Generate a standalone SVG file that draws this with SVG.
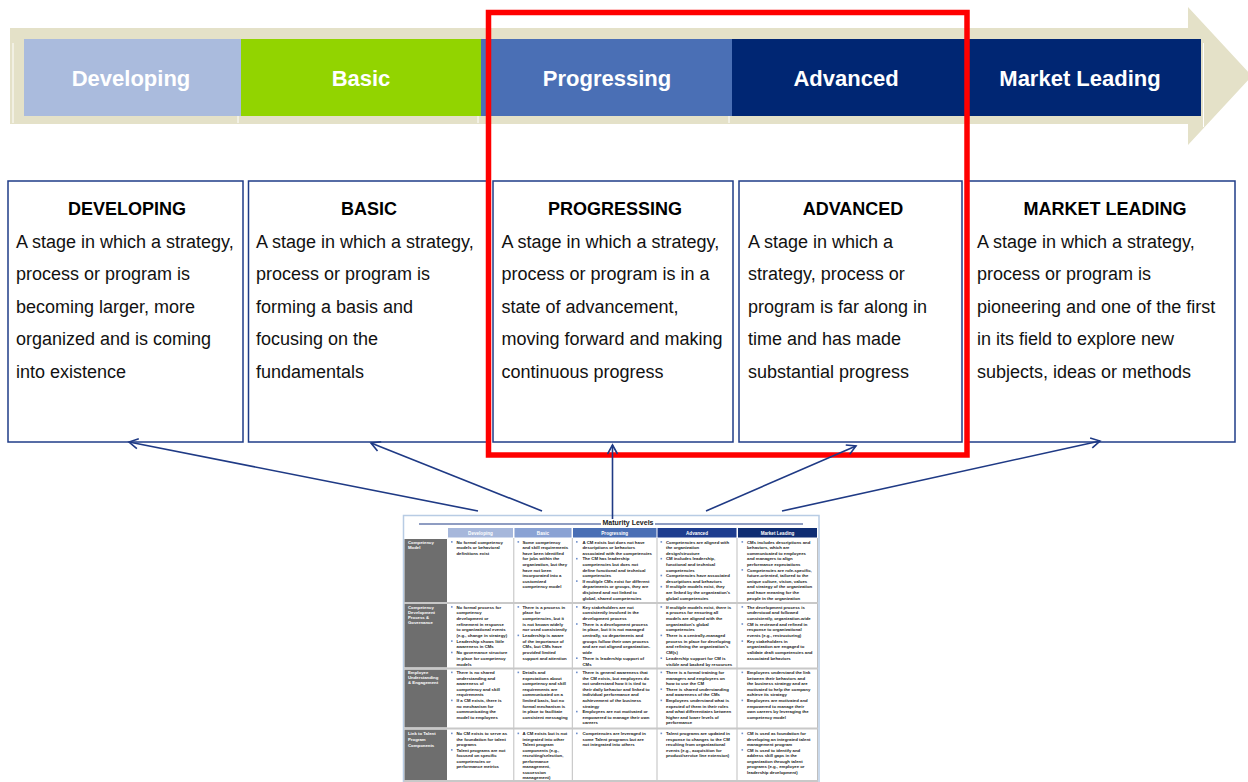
<svg xmlns="http://www.w3.org/2000/svg" xmlns:xlink="http://www.w3.org/1999/xlink" width="1248" height="782" viewBox="0 0 1248 782">
<style>
.bn{font-family:"Liberation Sans",Arial,sans-serif;font-weight:bold;font-size:22px;fill:#fff;text-anchor:middle}
.box{fill:#fff;stroke:#1F3C88;stroke-width:1.5}
.tt{font-family:"Liberation Sans",Arial,sans-serif;font-weight:bold;font-size:18px;fill:#000;text-anchor:middle}
.bd{font-family:"Liberation Sans",Arial,sans-serif;font-size:18px;fill:#111}
.con{fill:none;stroke:#1F3A85;stroke-width:1.6;marker-end:url(#ah)}
.hd{font-family:"Liberation Sans",Arial,sans-serif;font-weight:bold;font-size:4.6px;fill:#fff;text-anchor:middle}
.rl{font-family:"Liberation Sans",Arial,sans-serif;font-weight:bold;font-size:4.3px;fill:#fff}
.c{font-family:"Liberation Sans",Arial,sans-serif;font-weight:bold;font-size:4.3px;fill:#1a1a1a}
.mt{font-family:"Liberation Sans",Arial,sans-serif;font-weight:bold;font-size:7px;fill:#1a1a1a;text-anchor:middle}
.wl{stroke:#fff;stroke-width:1}
.gl{stroke:#BFBFBF;stroke-width:1}
.rs{stroke:#C8C8C8;stroke-width:2}
.lab{fill:#6E6E6E}
</style>
<defs>
<marker id="ah" markerWidth="12" markerHeight="12" refX="10" refY="6" orient="auto" markerUnits="userSpaceOnUse">
<path d="M1,1 L10,6 L1,11" fill="none" stroke="#1F3A85" stroke-width="1.6"/>
</marker>
<rect id="bl" width="1.6" height="1.6" fill="#6F8FCB"/>
</defs>
<rect width="1248" height="782" fill="#fff"/>

<g id="banner">
<polygon points="10,28 1188,28 1188,7 1252,76 1188,145 1188,124 10,124" fill="#E4E1C8"/>
<line class="wl" x1="13" y1="43" x2="13" y2="123"/>
<line class="wl" x1="1203.5" y1="43" x2="1203.5" y2="127"/>
<line class="wl" x1="238" y1="116" x2="238" y2="123"/>
<line class="wl" x1="478" y1="116" x2="478" y2="123"/>
<line class="wl" x1="729" y1="116" x2="729" y2="123"/>
</g>
<g id="stage-developing"><rect x="24" y="39" width="217" height="77" fill="#AABBDD"/><text class="bn" x="131" y="86">Developing</text></g>
<g id="stage-basic"><rect x="241" y="39" width="240" height="77" fill="#92D400"/><text class="bn" x="361" y="86">Basic</text></g>
<g id="stage-progressing"><rect x="481" y="39" width="251" height="77" fill="#4A6FB5"/><text class="bn" x="607" y="86">Progressing</text></g>
<g id="stage-advanced"><rect x="732" y="39" width="230" height="77" fill="#002673"/><text class="bn" x="846" y="86">Advanced</text></g>
<g id="stage-market-leading"><rect x="961" y="39" width="240" height="77" fill="#002673"/><text class="bn" x="1080" y="86">Market Leading</text></g>

<g id="box-developing">
<rect class="box" x="8" y="181" width="235" height="261"/>
<text class="tt" x="127" y="215">DEVELOPING</text>
<text class="bd" y="247.5"><tspan x="16">A stage in which a strategy,</tspan><tspan x="16" dy="32.5">process or program is</tspan><tspan x="16" dy="32.5">becoming larger, more</tspan><tspan x="16" dy="32.5">organized and is coming</tspan><tspan x="16" dy="32.5">into existence</tspan></text>
</g>
<g id="box-basic">
<rect class="box" x="248.5" y="181" width="238.5" height="261"/>
<text class="tt" x="369" y="215">BASIC</text>
<text class="bd" y="247.5"><tspan x="256">A stage in which a strategy,</tspan><tspan x="256" dy="32.5">process or program is</tspan><tspan x="256" dy="32.5">forming a basis and</tspan><tspan x="256" dy="32.5">focusing on the</tspan><tspan x="256" dy="32.5">fundamentals</tspan></text>
</g>
<g id="box-progressing">
<rect class="box" x="493" y="181" width="240" height="261"/>
<text class="tt" x="615" y="215">PROGRESSING</text>
<text class="bd" y="247.5"><tspan x="501.5">A stage in which a strategy,</tspan><tspan x="501.5" dy="32.5">process or program is in a</tspan><tspan x="501.5" dy="32.5">state of advancement,</tspan><tspan x="501.5" dy="32.5">moving forward and making</tspan><tspan x="501.5" dy="32.5">continuous progress</tspan></text>
</g>
<g id="box-advanced">
<rect class="box" x="739" y="181" width="223" height="261"/>
<text class="tt" x="853" y="215">ADVANCED</text>
<text class="bd" y="247.5"><tspan x="748">A stage in which a</tspan><tspan x="748" dy="32.5">strategy, process or</tspan><tspan x="748" dy="32.5">program is far along in</tspan><tspan x="748" dy="32.5">time and has made</tspan><tspan x="748" dy="32.5">substantial progress</tspan></text>
</g>
<g id="box-market-leading">
<rect class="box" x="967" y="181" width="268" height="261"/>
<text class="tt" x="1105" y="215">MARKET LEADING</text>
<text class="bd" y="247.5"><tspan x="977">A stage in which a strategy,</tspan><tspan x="977" dy="32.5">process or program is</tspan><tspan x="977" dy="32.5">pioneering and one of the first</tspan><tspan x="977" dy="32.5">in its field to explore new</tspan><tspan x="977" dy="32.5">subjects, ideas or methods</tspan></text>
</g>

<g id="highlight">
<rect x="488.5" y="12.5" width="478.5" height="442.5" fill="none" stroke="#FF0000" stroke-width="5.5"/>
</g>

<g id="table">
<rect x="403.5" y="515.5" width="415.5" height="270" fill="#fff" stroke="#B8CCE4" stroke-width="1.5"/>
<line x1="419" y1="524" x2="601" y2="524" stroke="#1F3A85" stroke-width="1"/>
<line x1="655" y1="524" x2="803" y2="524" stroke="#1F3A85" stroke-width="1"/>
<text class="mt" x="628" y="525">Maturity Levels</text>
<rect x="448" y="528" width="65" height="9.5" fill="#A6B7DB"/>
<rect x="514.5" y="528" width="57" height="9.5" fill="#8AA2D4"/>
<rect x="573" y="528" width="83.5" height="9.5" fill="#4A6FB5"/>
<rect x="657.5" y="528" width="79" height="9.5" fill="#1E3D8F"/>
<rect x="738" y="528" width="79" height="9.5" fill="#0F2D73"/>
<text class="hd" x="480.5" y="534.5">Developing</text>
<text class="hd" x="543" y="534.5">Basic</text>
<text class="hd" x="614.7" y="534.5">Progressing</text>
<text class="hd" x="697" y="534.5">Advanced</text>
<text class="hd" x="777.5" y="534.5">Market Leading</text>
<rect class="lab" x="404.5" y="539" width="42.5" height="63"/>
<rect class="lab" x="404.5" y="604" width="42.5" height="63.5"/>
<rect class="lab" x="404.5" y="669.5" width="42.5" height="58"/>
<rect class="lab" x="404.5" y="729.5" width="42.5" height="52"/>
<line class="gl" x1="513.8" y1="538" x2="513.8" y2="782"/>
<line class="gl" x1="572.3" y1="538" x2="572.3" y2="782"/>
<line class="gl" x1="657" y1="538" x2="657" y2="782"/>
<line class="gl" x1="737" y1="538" x2="737" y2="782"/>
<line class="gl" x1="817.5" y1="538" x2="817.5" y2="782"/>
<line class="rs" x1="404" y1="603" x2="818" y2="603"/>
<line class="rs" x1="404" y1="668.5" x2="818" y2="668.5"/>
<line class="rs" x1="404" y1="728.5" x2="818" y2="728.5"/>
<line class="rs" x1="404" y1="781" x2="818" y2="781"/>

<text class="rl" y="543.5"><tspan x="408">Competency</tspan><tspan x="408" dy="5">Model</tspan></text>
<text class="rl" y="608.5"><tspan x="408">Competency</tspan><tspan x="408" dy="5">Development</tspan><tspan x="408" dy="5">Process &amp;</tspan><tspan x="408" dy="5">Governance</tspan></text>
<text class="rl" y="674"><tspan x="408">Employee</tspan><tspan x="408" dy="5">Understanding</tspan><tspan x="408" dy="5">&amp; Engagement</tspan></text>
<text class="rl" y="735"><tspan x="408">Link to Talent</tspan><tspan x="408" dy="6">Program</tspan><tspan x="408" dy="6">Components</tspan></text>

<!-- Row 1 -->
<use xlink:href="#bl" x="451" y="541.1"/>
<text class="c" y="543.5"><tspan x="456.5">No formal competency</tspan><tspan x="456.5" dy="5.6">models or behavioral</tspan><tspan x="456.5" dy="5.6">definitions exist</tspan></text>
<use xlink:href="#bl" x="517.5" y="541.1"/>
<text class="c" y="543.5"><tspan x="522.5">Some competency</tspan><tspan x="522.5" dy="5.6">and skill requirements</tspan><tspan x="522.5" dy="5.6">have been identified</tspan><tspan x="522.5" dy="5.6">for jobs within the</tspan><tspan x="522.5" dy="5.6">organization, but they</tspan><tspan x="522.5" dy="5.6">have not been</tspan><tspan x="522.5" dy="5.6">incorporated into a</tspan><tspan x="522.5" dy="5.6">customized</tspan><tspan x="522.5" dy="5.6">competency model</tspan></text>
<use xlink:href="#bl" x="576" y="541.1"/><use xlink:href="#bl" x="576" y="557.9"/><use xlink:href="#bl" x="576" y="580.3"/>
<text class="c" y="543.5"><tspan x="582.5">A CM  exists but does not have</tspan><tspan x="582.5" dy="5.6">descriptions or behaviors</tspan><tspan x="582.5" dy="5.6">associated with the competencies</tspan><tspan x="582.5" dy="5.6">The CM has leadership</tspan><tspan x="582.5" dy="5.6">competencies but does not</tspan><tspan x="582.5" dy="5.6">define functional and technical</tspan><tspan x="582.5" dy="5.6">competencies</tspan><tspan x="582.5" dy="5.6">If multiple CMs exist for different</tspan><tspan x="582.5" dy="5.6">departments or groups, they are</tspan><tspan x="582.5" dy="5.6">disjoined and not linked to</tspan><tspan x="582.5" dy="5.6">global, shared competencies</tspan></text>
<use xlink:href="#bl" x="660.5" y="541.1"/><use xlink:href="#bl" x="660.5" y="557.9"/><use xlink:href="#bl" x="660.5" y="574.7"/><use xlink:href="#bl" x="660.5" y="585.9"/>
<text class="c" y="543.5"><tspan x="666">Competencies are aligned with</tspan><tspan x="666" dy="5.6">the organization</tspan><tspan x="666" dy="5.6">design/structure</tspan><tspan x="666" dy="5.6">CM includes leadership,</tspan><tspan x="666" dy="5.6">functional and technical</tspan><tspan x="666" dy="5.6">competencies</tspan><tspan x="666" dy="5.6">Competencies have associated</tspan><tspan x="666" dy="5.6">descriptions and behaviors</tspan><tspan x="666" dy="5.6">If multiple models exist, they</tspan><tspan x="666" dy="5.6">are linked by the organization's</tspan><tspan x="666" dy="5.6">global competencies</tspan></text>
<use xlink:href="#bl" x="741.5" y="541.1"/><use xlink:href="#bl" x="741.5" y="569.1"/>
<text class="c" y="543.5"><tspan x="747">CMs includes descriptions and</tspan><tspan x="747" dy="5.6">behaviors, which are</tspan><tspan x="747" dy="5.6">communicated to employees</tspan><tspan x="747" dy="5.6">and managers to align</tspan><tspan x="747" dy="5.6">performance expectations</tspan><tspan x="747" dy="5.6">Competencies are role-specific,</tspan><tspan x="747" dy="5.6">future-oriented, tailored to the</tspan><tspan x="747" dy="5.6">unique culture, vision,  values</tspan><tspan x="747" dy="5.6">and strategy of the organization</tspan><tspan x="747" dy="5.6">and have meaning for the</tspan><tspan x="747" dy="5.6">people in the organization</tspan></text>

<!-- Row 2 -->
<use xlink:href="#bl" x="451" y="606.1"/><use xlink:href="#bl" x="451" y="640.3"/><use xlink:href="#bl" x="451" y="651.7"/>
<text class="c" y="608.5"><tspan x="456.5">No formal process for</tspan><tspan x="456.5" dy="5.7">competency</tspan><tspan x="456.5" dy="5.7">development or</tspan><tspan x="456.5" dy="5.7">refinement in response</tspan><tspan x="456.5" dy="5.7">to organizational events</tspan><tspan x="456.5" dy="5.7">(e.g., change in strategy)</tspan><tspan x="456.5" dy="5.7">Leadership shows little</tspan><tspan x="456.5" dy="5.7">awareness in CMs</tspan><tspan x="456.5" dy="5.7">No governance structure</tspan><tspan x="456.5" dy="5.7">in place for competency</tspan><tspan x="456.5" dy="5.7">models</tspan></text>
<use xlink:href="#bl" x="517.5" y="606.1"/><use xlink:href="#bl" x="517.5" y="634.6"/>
<text class="c" y="608.5"><tspan x="522.5">There is a process in</tspan><tspan x="522.5" dy="5.7">place for</tspan><tspan x="522.5" dy="5.7">competencies, but it</tspan><tspan x="522.5" dy="5.7">is not known widely</tspan><tspan x="522.5" dy="5.7">nor used consistently</tspan><tspan x="522.5" dy="5.7">Leadership is aware</tspan><tspan x="522.5" dy="5.7">of the importance of</tspan><tspan x="522.5" dy="5.7">CMs, but CMs have</tspan><tspan x="522.5" dy="5.7">provided limited</tspan><tspan x="522.5" dy="5.7">support and attention</tspan></text>
<use xlink:href="#bl" x="576" y="606.1"/><use xlink:href="#bl" x="576" y="623.2"/><use xlink:href="#bl" x="576" y="657.4"/>
<text class="c" y="608.5"><tspan x="582.5">Key stakeholders are not</tspan><tspan x="582.5" dy="5.7">consistently involved in the</tspan><tspan x="582.5" dy="5.7">development process</tspan><tspan x="582.5" dy="5.7">There is a development process</tspan><tspan x="582.5" dy="5.7">in place, but it is not managed</tspan><tspan x="582.5" dy="5.7">centrally, so departments and</tspan><tspan x="582.5" dy="5.7">groups follow their own process</tspan><tspan x="582.5" dy="5.7">and are not aligned organization-</tspan><tspan x="582.5" dy="5.7">wide</tspan><tspan x="582.5" dy="5.7">There is leadership support of</tspan><tspan x="582.5" dy="5.7">CMs</tspan></text>
<use xlink:href="#bl" x="660.5" y="606.1"/><use xlink:href="#bl" x="660.5" y="634.6"/><use xlink:href="#bl" x="660.5" y="657.4"/>
<text class="c" y="608.5"><tspan x="666">If multiple models exist, there is</tspan><tspan x="666" dy="5.7">a process for ensuring all</tspan><tspan x="666" dy="5.7">models are aligned with the</tspan><tspan x="666" dy="5.7">organization's global</tspan><tspan x="666" dy="5.7">competencies</tspan><tspan x="666" dy="5.7">There is a centrally-managed</tspan><tspan x="666" dy="5.7">process in place for developing</tspan><tspan x="666" dy="5.7">and refining the organization's</tspan><tspan x="666" dy="5.7">CM(s)</tspan><tspan x="666" dy="5.7">Leadership support for CM is</tspan><tspan x="666" dy="5.7">visible and backed by resources</tspan></text>
<use xlink:href="#bl" x="741.5" y="606.1"/><use xlink:href="#bl" x="741.5" y="623.2"/><use xlink:href="#bl" x="741.5" y="640.3"/>
<text class="c" y="608.5"><tspan x="747">The development process is</tspan><tspan x="747" dy="5.7">understood and followed</tspan><tspan x="747" dy="5.7">consistently, organization-wide</tspan><tspan x="747" dy="5.7">CM  is reviewed and refined in</tspan><tspan x="747" dy="5.7">response to organizational</tspan><tspan x="747" dy="5.7">events (e.g., restructuring)</tspan><tspan x="747" dy="5.7">Key stakeholders in</tspan><tspan x="747" dy="5.7">organization are engaged to</tspan><tspan x="747" dy="5.7">validate draft competencies and</tspan><tspan x="747" dy="5.7">associated behaviors</tspan></text>

<!-- Row 3 -->
<use xlink:href="#bl" x="451" y="671.6"/><use xlink:href="#bl" x="451" y="699.6"/>
<text class="c" y="674"><tspan x="456.5">There is no shared</tspan><tspan x="456.5" dy="5.6">understanding and</tspan><tspan x="456.5" dy="5.6">awareness of</tspan><tspan x="456.5" dy="5.6">competency and skill</tspan><tspan x="456.5" dy="5.6">requirements</tspan><tspan x="456.5" dy="5.6">If a CM exists, there is</tspan><tspan x="456.5" dy="5.6">no mechanism for</tspan><tspan x="456.5" dy="5.6">communicating the</tspan><tspan x="456.5" dy="5.6">model to employees</tspan></text>
<use xlink:href="#bl" x="517.5" y="671.6"/>
<text class="c" y="674"><tspan x="522.5">Details and</tspan><tspan x="522.5" dy="5.6">expectations about</tspan><tspan x="522.5" dy="5.6">competency and skill</tspan><tspan x="522.5" dy="5.6">requirements are</tspan><tspan x="522.5" dy="5.6">communicated on a</tspan><tspan x="522.5" dy="5.6">limited basis, but no</tspan><tspan x="522.5" dy="5.6">formal mechanism is</tspan><tspan x="522.5" dy="5.6">in place to facilitate</tspan><tspan x="522.5" dy="5.6">consistent messaging</tspan></text>
<use xlink:href="#bl" x="576" y="671.6"/><use xlink:href="#bl" x="576" y="710.8"/>
<text class="c" y="674"><tspan x="582.5">There is general awareness that</tspan><tspan x="582.5" dy="5.6">the CM exists, but employees do</tspan><tspan x="582.5" dy="5.6">not understand how it is tied to</tspan><tspan x="582.5" dy="5.6">their daily behavior and linked to</tspan><tspan x="582.5" dy="5.6">individual performance and</tspan><tspan x="582.5" dy="5.6">achievement of the business</tspan><tspan x="582.5" dy="5.6">strategy</tspan><tspan x="582.5" dy="5.6">Employees are not motivated or</tspan><tspan x="582.5" dy="5.6">empowered to manage their own</tspan><tspan x="582.5" dy="5.6">careers</tspan></text>
<use xlink:href="#bl" x="660.5" y="671.6"/><use xlink:href="#bl" x="660.5" y="688.4"/><use xlink:href="#bl" x="660.5" y="699.6"/>
<text class="c" y="674"><tspan x="666">There is a formal training for</tspan><tspan x="666" dy="5.6">managers and employees on</tspan><tspan x="666" dy="5.6">how to use the CM</tspan><tspan x="666" dy="5.6">There is shared understanding</tspan><tspan x="666" dy="5.6">and awareness of the CMs</tspan><tspan x="666" dy="5.6">Employees understand what is</tspan><tspan x="666" dy="5.6">expected of them in their roles</tspan><tspan x="666" dy="5.6">and what differentiates between</tspan><tspan x="666" dy="5.6">higher and lower levels of</tspan><tspan x="666" dy="5.6">performance</tspan></text>
<use xlink:href="#bl" x="741.5" y="671.6"/><use xlink:href="#bl" x="741.5" y="699.6"/>
<text class="c" y="674"><tspan x="747">Employees understand the link</tspan><tspan x="747" dy="5.6">between their behaviors and</tspan><tspan x="747" dy="5.6">the business strategy and are</tspan><tspan x="747" dy="5.6">motivated to help the company</tspan><tspan x="747" dy="5.6">achieve its strategy</tspan><tspan x="747" dy="5.6">Employees are motivated and</tspan><tspan x="747" dy="5.6">empowered to manage their</tspan><tspan x="747" dy="5.6">own careers by leveraging the</tspan><tspan x="747" dy="5.6">competency model</tspan></text>

<!-- Row 4 -->
<use xlink:href="#bl" x="451" y="732.6"/><use xlink:href="#bl" x="451" y="749.1"/>
<text class="c" y="735"><tspan x="456.5">No CM exists to serve as</tspan><tspan x="456.5" dy="5.5">the foundation for talent</tspan><tspan x="456.5" dy="5.5">programs</tspan><tspan x="456.5" dy="5.5">Talent programs are not</tspan><tspan x="456.5" dy="5.5">focused on specific</tspan><tspan x="456.5" dy="5.5">competencies or</tspan><tspan x="456.5" dy="5.5">performance metrics</tspan></text>
<use xlink:href="#bl" x="517.5" y="732.6"/>
<text class="c" y="735"><tspan x="522.5">A CM exists but is not</tspan><tspan x="522.5" dy="5.5">integrated into other</tspan><tspan x="522.5" dy="5.5">Talent program</tspan><tspan x="522.5" dy="5.5">components (e.g.,</tspan><tspan x="522.5" dy="5.5">recruiting/selection,</tspan><tspan x="522.5" dy="5.5">performance</tspan><tspan x="522.5" dy="5.5">management,</tspan><tspan x="522.5" dy="5.5">succession</tspan><tspan x="522.5" dy="5.5">management)</tspan></text>
<use xlink:href="#bl" x="576" y="732.6"/>
<text class="c" y="735"><tspan x="582.5">Competencies are leveraged in</tspan><tspan x="582.5" dy="5.5">some Talent programs but are</tspan><tspan x="582.5" dy="5.5">not integrated into others</tspan></text>
<use xlink:href="#bl" x="660.5" y="732.6"/>
<text class="c" y="735"><tspan x="666">Talent programs are updated in</tspan><tspan x="666" dy="5.5">response to changes to the CM</tspan><tspan x="666" dy="5.5">resulting from organizational</tspan><tspan x="666" dy="5.5">events (e.g., acquisition for</tspan><tspan x="666" dy="5.5">product/service line extension)</tspan></text>
<use xlink:href="#bl" x="741.5" y="732.6"/><use xlink:href="#bl" x="741.5" y="749.1"/>
<text class="c" y="735"><tspan x="747">CM is used as foundation for</tspan><tspan x="747" dy="5.5">developing an integrated talent</tspan><tspan x="747" dy="5.5">management program</tspan><tspan x="747" dy="5.5">CM is used to identify and</tspan><tspan x="747" dy="5.5">address skill gaps in the</tspan><tspan x="747" dy="5.5">organization through talent</tspan><tspan x="747" dy="5.5">programs (e.g., employee or</tspan><tspan x="747" dy="5.5">leadership development)</tspan></text>
</g>

<g id="connectors">
<line class="con" x1="478" y1="511" x2="129" y2="442"/>
<line class="con" x1="542" y1="511" x2="371" y2="443"/>
<line class="con" x1="612.5" y1="519" x2="612.5" y2="445"/>
<line class="con" x1="706" y1="511" x2="856" y2="446"/>
<line class="con" x1="782" y1="511" x2="1100" y2="441"/>
</g>
</svg>
